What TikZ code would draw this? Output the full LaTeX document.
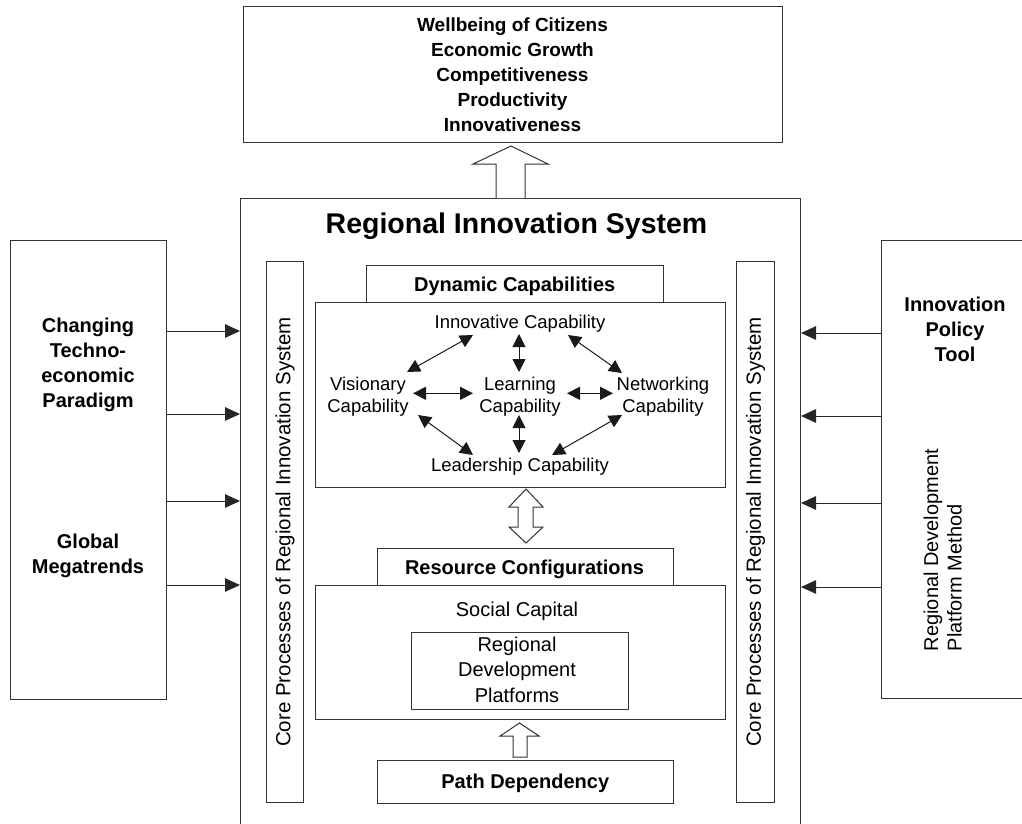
\documentclass[tikz,border=0pt]{standalone}
\usepackage{fontspec}
\setmainfont{Liberation Sans}
\usetikzlibrary{arrows.meta,calc}
\begin{document}
\begin{tikzpicture}[x=1pt,y=-1pt,
  frame/.style={draw=black!80, line width=1pt, fill=white, inner sep=0pt, anchor=north west},
  txt/.style={inner sep=0pt, align=center},
  bigb/.style={font=\bfseries\fontsize{20}{25}\selectfont},
  reg/.style={font=\fontsize{20}{25.5}\selectfont},
  capf/.style={font=\fontsize{18.5}{22}\selectfont, inner sep=0pt, align=center},
  inarr/.style={draw=black!85, line width=1pt, -{Triangle[length=15pt,width=13.5pt]}},
  dbl/.style={draw=black!90, line width=1pt, {Triangle[length=13pt,width=13pt]}-{Triangle[length=13pt,width=13pt]}},
  hollow/.style={draw=black!80, line width=1pt, fill=white, line join=miter}]
\useasboundingbox (0,0) rectangle (1022,823);

% main frame
\node[frame, minimum width=560, minimum height=680] (main) at (240,198) {};
\node[txt, anchor=base, font=\bfseries\fontsize{28.5}{34}\selectfont] (title) at (516.5,233.5) {Regional Innovation System};

% top outcomes box
\node[frame, minimum width=539, minimum height=136] (top) at (243,6) {};
\node[txt, font=\bfseries\fontsize{19}{25}\selectfont] (outc) at (512.5,75) {Wellbeing of Citizens\\Economic Growth\\Competitiveness\\Productivity\\Innovativeness};

% hollow arrow main -> top
\draw[hollow] (496,198) -- (496,164) -- (473,164) -- (511,146) -- (548,164) -- (525,164) -- (525,198);

% left box
\node[frame, minimum width=156, minimum height=459] (lbox) at (10,240) {};
\node[txt, bigb] (chg) at (88,365) {Changing\\Techno-\\economic\\Paradigm};
\node[txt, bigb] (glob) at (88,555.5) {Global\\Megatrends};

% right box
\node[frame, minimum width=170, minimum height=458] (rbox) at (881,240) {};
\node[txt, bigb] (ipt) at (955,329.5) {Innovation\\Policy\\Tool};
\node[inner sep=0pt, align=left, rotate=90, font=\fontsize{20}{23.5}\selectfont] (rdpm) at (942.7,550) {Regional Development\\Platform Method};

% core process bars
\node[frame, minimum width=37, minimum height=541] (corel) at (266,261) {};
\node[frame, minimum width=38, minimum height=541] (corer) at (736,261) {};
\node[inner sep=0pt, rotate=90, font=\fontsize{20.5}{24}\selectfont] (corelt) at (corel.center) {Core Processes of Regional Innovation System};
\node[inner sep=0pt, rotate=90, font=\fontsize{20.5}{24}\selectfont] (corert) at (corer.center) {Core Processes of Regional Innovation System};

% dynamic capabilities
\node[frame, minimum width=297, minimum height=37] (dynh) at (366,265) {};
\node[frame, minimum width=410, minimum height=185] (dynb) at (315,302) {};
\node[txt, anchor=base, bigb] (dynt) at (514.7,291.7) {Dynamic Capabilities};

\node[capf] (inn) at (520,323.5) {Innovative Capability};
\node[capf] (vis) at (368,397) {Visionary\\Capability};
\node[capf] (lrn) at (520,397) {Learning\\Capability};
\node[capf] (net) at (663,397) {Networking\\Capability};
\node[capf] (lead) at (520,467) {Leadership Capability};

\draw[dbl] ($(vis)+(39,-25)$) -- ($(inn)+(-47,11.5)$);
\draw[dbl] ($(inn)+(-1,10.5)$) -- ($(lrn)+(-1,-25)$);
\draw[dbl] ($(inn)+(48,11.5)$) -- ($(net)+(-41,-24)$);
\draw[dbl] ($(vis)+(45,-3.7)$) -- ($(lrn)+(-47,-3.7)$);
\draw[dbl] ($(lrn)+(47,-3.7)$) -- ($(net)+(-50,-3.7)$);
\draw[dbl] ($(vis)+(50,18)$) -- ($(lead)+(-47,-12)$);
\draw[dbl] ($(lrn)+(-1,18)$) -- ($(lead)+(-1,-14)$);
\draw[dbl] ($(net)+(-41,18)$) -- ($(lead)+(32,-12)$);

% double hollow arrow
\draw[hollow] (526,489) -- (543,507) -- (533,507) -- (533,527) -- (543,527) -- (526,543) -- (509,527) -- (518,527) -- (518,507) -- (509,507) -- cycle;

% resource configurations
\node[frame, minimum width=296, minimum height=37] (resh) at (377,548) {};
\node[frame, minimum width=410, minimum height=134] (resb) at (315,585) {};
\node[txt, anchor=base, bigb] (rest) at (524.5,574) {Resource Configurations};
\node[txt, anchor=base, reg] (soc) at (517,616.7) {Social Capital};
\node[frame, minimum width=217, minimum height=77] (rdp) at (411,632) {};
\node[txt, reg] (rdpt) at (517,669.4) {Regional\\Development\\Platforms};

% path dependency
\draw[hollow] (519.5,723) -- (539,736) -- (527,736) -- (527,757) -- (513,757) -- (513,736) -- (500,736) -- cycle;
\node[frame, minimum width=296, minimum height=43] (path) at (377,760) {};
\node[txt, anchor=base, bigb] (patht) at (525.3,788.3) {Path Dependency};

% influence arrows
\draw[inarr] (lbox.east |- 0,331) -- (main.west |- 0,331);
\draw[inarr] (lbox.east |- 0,414) -- (main.west |- 0,414);
\draw[inarr] (lbox.east |- 0,501) -- (main.west |- 0,501);
\draw[inarr] (lbox.east |- 0,585) -- (main.west |- 0,585);
\draw[inarr] (rbox.west |- 0,333) -- (main.east |- 0,333);
\draw[inarr] (rbox.west |- 0,416) -- (main.east |- 0,416);
\draw[inarr] (rbox.west |- 0,503) -- (main.east |- 0,503);
\draw[inarr] (rbox.west |- 0,587) -- (main.east |- 0,587);
\end{tikzpicture}
\end{document}
